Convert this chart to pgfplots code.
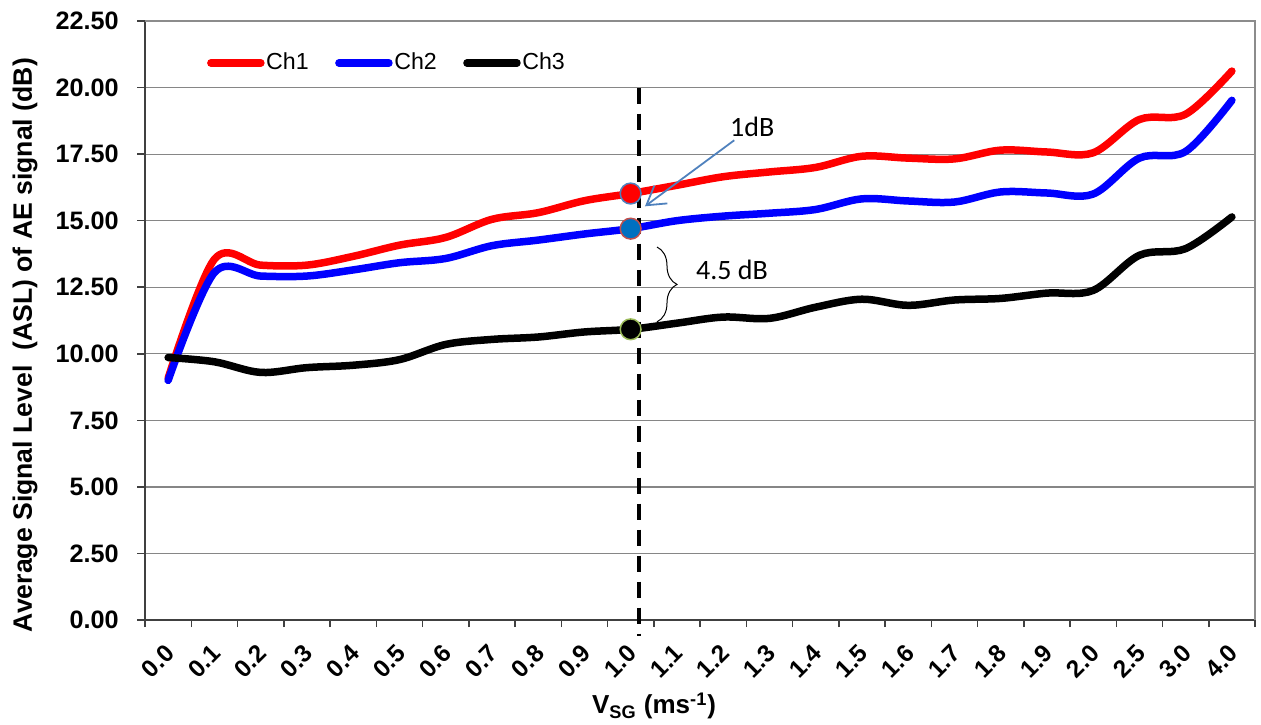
\documentclass[border=0pt]{standalone}
\usepackage{fontspec}
\setmainfont{Liberation Sans}
\newfontfamily\calibri{Carlito}
\usepackage{pgfplots}
\usepackage{pgfplotstable}
\pgfplotsset{compat=1.18}
\usetikzlibrary{arrows.meta, decorations.pathreplacing}
\definecolor{gridgray}{HTML}{868686}
\definecolor{framegray}{HTML}{8C8C8C}
\definecolor{axdark}{HTML}{404040}
\definecolor{arrowblue}{HTML}{4F81BD}
\definecolor{mblue}{HTML}{0070C0}
\definecolor{medgered}{HTML}{C0504D}
\definecolor{mgreen}{HTML}{9BBB59}

\pgfplotstableread{
x ch1 ch2 ch3
0 9.08 9.00 9.86
1 13.55 13.05 9.70
2 13.33 12.92 9.30
3 13.33 12.92 9.48
4 13.66 13.15 9.57
5 14.08 13.42 9.78
6 14.37 13.58 10.35
7 15.05 14.06 10.54
8 15.30 14.27 10.63
9 15.75 14.50 10.82
10 16.02 14.70 10.92
11 16.33 15.00 11.15
12 16.65 15.17 11.38
13 16.83 15.28 11.33
14 17.00 15.42 11.75
15 17.42 15.82 12.05
16 17.35 15.74 11.82
17 17.32 15.70 12.02
18 17.65 16.08 12.08
19 17.58 16.04 12.28
20 17.55 16.00 12.38
21 18.80 17.35 13.70
22 19.00 17.60 13.95
23 20.62 19.52 15.14
}\asldata

\newcommand{\ytfont}{\fontsize{12.6}{15}\selectfont\bfseries}
\newcommand{\xtfont}{\fontsize{12.2}{14}\selectfont\bfseries}

\begin{document}
\begin{tikzpicture}
\useasboundingbox (0,0) rectangle (630.5pt,-362pt);
\begin{axis}[
  at={(72.5pt,-310pt)}, anchor=south west,
  width=555pt, height=299.5pt, scale only axis,
  xmin=-0.5, xmax=23.5, ymin=0, ymax=22.5,
  enlargelimits=false, clip=false,
  axis lines=left, axis line style={-, color=axdark, line width=1pt},
  xtick={0,...,23},
  xticklabels={0.0,0.1,0.2,0.3,0.4,0.5,0.6,0.7,0.8,0.9,1.0,1.1,1.2,1.3,1.4,1.5,1.6,1.7,1.8,1.9,2.0,2.5,3.0,4.0},
  major x tick style={draw=none},
  minor xtick={-0.5,0.5,1.5,2.5,3.5,4.5,5.5,6.5,7.5,8.5,9.5,10.5,11.5,12.5,13.5,14.5,15.5,16.5,17.5,18.5,19.5,20.5,21.5,22.5,23.5},
  ytick={0,2.5,5,7.5,10,12.5,15,17.5,20,22.5},
  tick align=outside, major tick length=4pt, minor tick length=3.5pt,
  tick style={color=axdark, line width=0.75pt},
  ymajorgrids, grid style={gridgray, line width=0.6pt},
  /pgf/number format/assume math mode=true,
  y tick label style={/pgf/number format/fixed, /pgf/number format/fixed zerofill, /pgf/number format/precision=2},
  yticklabel style={font=\ytfont, anchor=east, inner sep=0pt, xshift=-9pt},
  xticklabel style={font=\xtfont, yshift=-10.5pt, xshift=1pt, rotate=45, anchor=east, inner sep=0pt},
  xlabel={V\textsubscript{SG} (ms\textsuperscript{-1})},
  xlabel style={font=\fontsize{13}{15}\selectfont\bfseries, at={(axis description cs:0.4586,-0.1436)}, anchor=center, inner sep=0pt},
  ylabel={Average Signal Level\ \ (ASL) of AE signal (dB)},
  ylabel style={font=\fontsize{13.3}{15}\selectfont\bfseries, at={(axis description cs:-0.108,0.459)}, anchor=center, inner sep=0pt},
  legend columns=3,
  legend cell align=left,
  legend image code/.code={\draw[#1, line width=3.75pt, line cap=round] (0pt,0pt) -- (25pt,0pt);},
  legend style={at={(0.0556,0.930)}, anchor=west, draw=none, fill=none, inner sep=0pt,
    font=\fontsize{11.6}{13}\selectfont, nodes={inner sep=0pt},
    /tikz/every odd column/.append style={column sep=0.8pt},
    /tikz/every even column/.append style={column sep=13.2pt}},
]
\draw[framegray, line width=1pt] (rel axis cs:0,1) -- (rel axis cs:1,1) -- (rel axis cs:1,0);

\addplot[red, line width=3.75pt, smooth, tension=0.55, line cap=round, line join=round] table[x=x,y=ch1]{\asldata};
\addlegendentry{Ch1}
\addplot[blue, line width=3.75pt, smooth, tension=0.55, line cap=round, line join=round] table[x=x,y=ch2]{\asldata};
\addlegendentry{Ch2}
\addplot[black, line width=3.75pt, smooth, tension=0.55, line cap=round, line join=round] table[x=x,y=ch3]{\asldata};
\addlegendentry{Ch3}

\addplot[only marks, mark=*, mark size=5.2pt, mark options={fill=red, draw=arrowblue, line width=0.75pt}, forget plot] coordinates {(10,16.02)};
\addplot[only marks, mark=*, mark size=5.2pt, mark options={fill=mblue, draw=medgered, line width=0.75pt}, forget plot] coordinates {(10,14.70)};
\addplot[only marks, mark=*, mark size=5.2pt, mark options={fill=black, draw=mgreen, line width=0.75pt}, forget plot] coordinates {(10,10.92)};

\draw[black, line width=2pt, dash pattern=on 8pt off 5pt] (axis cs:10.17,20) -- (axis cs:10.17,-0.6);

\draw[-{Straight Barb[length=9pt,width=11pt]}, color=arrowblue, line width=0.9pt] (axis cs:12.24,18.02) -- (axis cs:10.31,15.54);
\node[font=\calibri\fontsize{14}{16}\selectfont] at (axis cs:12.63,18.52) {1dB};
\node[font=\calibri\fontsize{14}{16}\selectfont] at (axis cs:12.19,13.14) {4.5 dB};
\draw[decorate, decoration={brace, amplitude=10pt}, line width=0.5pt] (axis cs:10.57,14.01) -- (axis cs:10.57,11.20);
\end{axis}
\end{tikzpicture}
\end{document}
